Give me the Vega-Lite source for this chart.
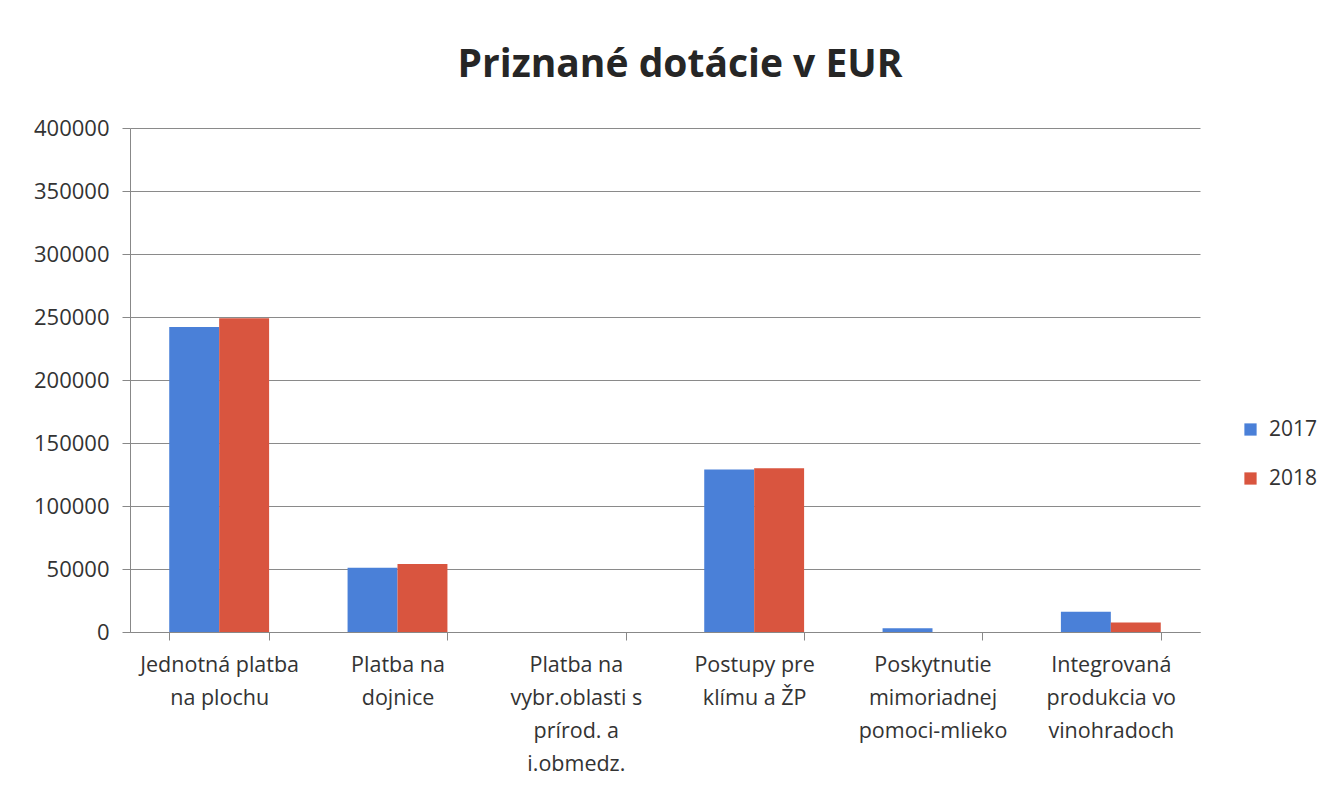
{
  "$schema": "https://vega.github.io/schema/vega-lite/v6.json",
  "autosize": {"type": "none"},
  "width": 1070,
  "height": 504,
  "padding": {"left": 130, "top": 128, "right": 136, "bottom": 164},
  "background": "white",
  "title": {
    "text": "Priznané dotácie v EUR",
    "font": "Open Sans",
    "fontSize": 39,
    "fontWeight": "bold",
    "color": "#262626",
    "offset": 32,
    "dx": 15,
    "anchor": "middle"
  },
  "data": {
    "values": [
      {"kategoria": "Jednotná platba|na plochu", "rok": "2017", "suma": 242000},
      {"kategoria": "Jednotná platba|na plochu", "rok": "2018", "suma": 249000},
      {"kategoria": "Platba na|dojnice", "rok": "2017", "suma": 51000},
      {"kategoria": "Platba na|dojnice", "rok": "2018", "suma": 54000},
      {"kategoria": "Platba na|vybr.oblasti s|prírod. a|i.obmedz.", "rok": "2017", "suma": 0},
      {"kategoria": "Platba na|vybr.oblasti s|prírod. a|i.obmedz.", "rok": "2018", "suma": 0},
      {"kategoria": "Postupy pre|klímu a ŽP", "rok": "2017", "suma": 129000},
      {"kategoria": "Postupy pre|klímu a ŽP", "rok": "2018", "suma": 130000},
      {"kategoria": "Poskytnutie|mimoriadnej|pomoci-mlieko", "rok": "2017", "suma": 3000},
      {"kategoria": "Poskytnutie|mimoriadnej|pomoci-mlieko", "rok": "2018", "suma": 0},
      {"kategoria": "Integrovaná|produkcia vo|vinohradoch", "rok": "2017", "suma": 16000},
      {"kategoria": "Integrovaná|produkcia vo|vinohradoch", "rok": "2018", "suma": 7500}
    ]
  },
  "mark": {"type": "bar"},
  "encoding": {
    "x": {
      "field": "kategoria",
      "type": "nominal",
      "sort": null,
      "scale": {"paddingInner": 0.44, "paddingOuter": 0.22},
      "axis": {
        "title": null,
        "labelAngle": 0,
        "labelExpr": "split(datum.label, '|')",
        "labelFont": "Open Sans",
        "labelFontSize": 21.5,
        "labelColor": "#333333",
        "labelLineHeight": 33,
        "labelPadding": 14,
        "tickBand": "extent",
        "tickSize": 8,
        "tickColor": "#888888",
        "domainColor": "#888888",
        "labelBaseline": "top"
      }
    },
    "xOffset": {"field": "rok", "type": "nominal", "scale": {"paddingInner": 0, "paddingOuter": 0}},
    "y": {
      "field": "suma",
      "type": "quantitative",
      "scale": {"domain": [0, 400000]},
      "axis": {
        "title": null,
        "values": [0, 50000, 100000, 150000, 200000, 250000, 300000, 350000, 400000],
        "format": "d",
        "labelFont": "Open Sans",
        "labelFontSize": 22,
        "labelColor": "#333333",
        "labelPadding": 13,
        "labelOverlap": false,
        "ticks": true,
        "tickSize": 8,
        "tickColor": "#888888",
        "domainColor": "#888888",
        "gridColor": "#8a8a8a",
        "gridWidth": 1
      }
    },
    "color": {
      "field": "rok",
      "type": "nominal",
      "scale": {"domain": ["2017", "2018"], "range": ["#4a80d8", "#d9553f"]},
      "legend": {
        "title": null,
        "orient": "none",
        "legendX": 1110,
        "legendY": 291,
        "symbolType": "square",
        "symbolSize": 150,
        "symbolStrokeWidth": 0,
        "labelFont": "Open Sans",
        "labelFontSize": 21,
        "labelColor": "#333333",
        "rowPadding": 27,
        "labelOffset": 8
      }
    }
  },
  "config": {
    "view": {"stroke": null}
  }
}
